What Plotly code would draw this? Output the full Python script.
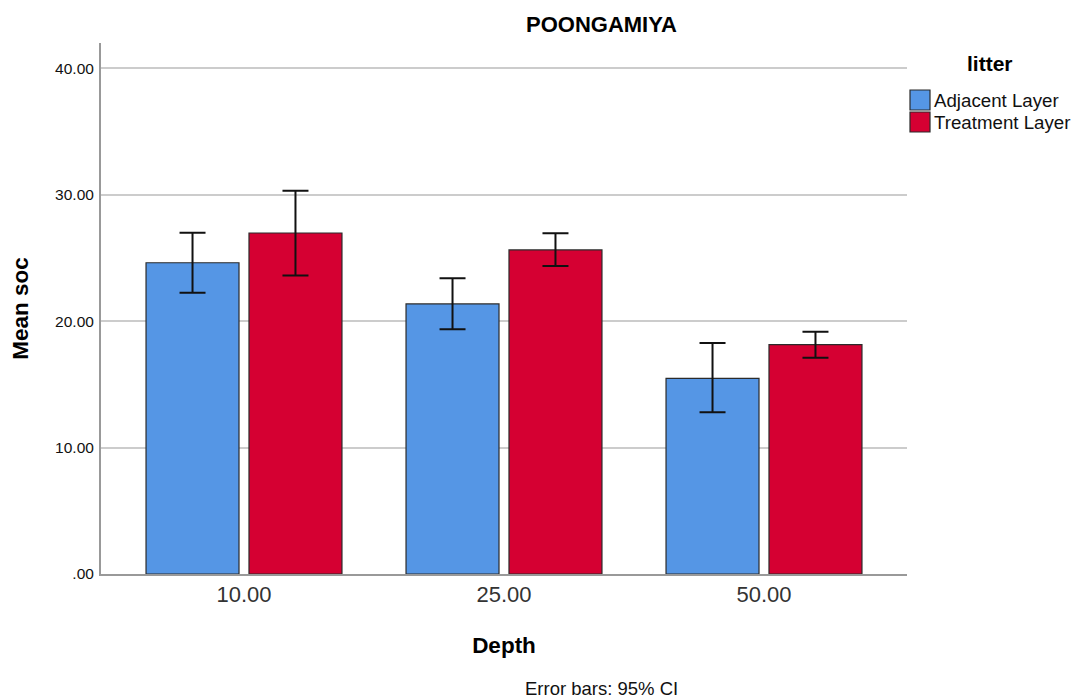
import plotly.graph_objects as go

# Mean SOC by depth and litter layer, with 95% confidence intervals
depths = ["10.00", "25.00", "50.00"]
adjacent_mean = [24.62, 21.36, 15.48]
adjacent_ci_low = [22.25, 19.35, 12.79]
adjacent_ci_high = [26.99, 23.39, 18.27]
treatment_mean = [26.97, 25.63, 18.14]
treatment_ci_low = [23.62, 24.36, 17.11]
treatment_ci_high = [30.32, 26.95, 19.17]

y_tickvals = [0, 10, 20, 30, 40]
y_ticktext = [".00", "10.00", "20.00", "30.00", "40.00"]

FONT = "Arial, Liberation Sans, sans-serif"
BLUE = "#5596E5"
RED = "#D50032"
EDGE = "#2b2b2b"

# plot area in pixels (for placing the side legend in paper units)
L, R, T, B = 101, 907, 43, 574


def px_x(px):
    return (px - L) / (R - L)


def px_y(py):
    return (B - py) / (B - T)


def err(mean, low, high):
    return dict(
        type="data",
        symmetric=False,
        array=[h - m for m, h in zip(mean, high)],
        arrayminus=[m - l for m, l in zip(mean, low)],
        color="#111111",
        thickness=2,
        width=13,
    )


fig = go.Figure()
series = [
    ("Adjacent Layer", adjacent_mean, adjacent_ci_low, adjacent_ci_high, BLUE),
    ("Treatment Layer", treatment_mean, treatment_ci_low, treatment_ci_high, RED),
]
for name, mean, lo, hi, color in series:
    fig.add_trace(go.Bar(
        name=name, x=depths, y=mean,
        marker=dict(color=color, line=dict(color=EDGE, width=1.2)),
        error_y=err(mean, lo, hi),
        showlegend=False,
    ))

# side legend: title, square swatches and labels
shapes = []
annotations = [
    dict(text="<b>litter</b>", xref="paper", yref="paper",
         x=px_x(990), y=px_y(64), xanchor="center", yanchor="middle",
         showarrow=False, font=dict(size=21, family=FONT, color="#000")),
]
for i, (name, _, _, _, color) in enumerate(series):
    top = 90 + 22 * i
    shapes.append(dict(type="rect", xref="paper", yref="paper",
                       x0=px_x(910), x1=px_x(930), y0=px_y(top + 20), y1=px_y(top),
                       fillcolor=color, line=dict(color=EDGE, width=1.2)))
    annotations.append(dict(text=name, xref="paper", yref="paper",
                            x=px_x(932), y=px_y(top + 10), xanchor="left", yanchor="middle",
                            showarrow=False, font=dict(size=18.7, family=FONT, color="#111")))

annotations += [
    dict(text="<b>POONGAMIYA</b>", xref="paper", yref="paper",
         x=px_x(601), y=px_y(24), xanchor="center", yanchor="middle",
         showarrow=False, font=dict(size=22, family=FONT, color="#000")),
    dict(text="Error bars: 95% CI", xref="paper", yref="paper",
         x=px_x(601), y=px_y(688), xanchor="center", yanchor="middle",
         showarrow=False, font=dict(size=18.5, family=FONT, color="#111")),
]

fig.update_layout(
    width=1073, height=698,
    margin=dict(l=L, r=1073 - R, t=T, b=698 - B, autoexpand=False),
    paper_bgcolor="white", plot_bgcolor="white",
    barmode="group", bargap=0.208, bargroupgap=0.097,
    font=dict(family=FONT, color="#000000"),
    showlegend=False,
    xaxis=dict(
        type="category", range=[-0.55, 2.55],
        showline=True, linecolor="#999999", linewidth=2,
        showgrid=False, ticks="",
        tickfont=dict(size=22, family=FONT, color="#333333"),
        title=dict(text="<b>Depth</b>", font=dict(size=22.5, family=FONT, color="#000"), standoff=31),
    ),
    yaxis=dict(
        range=[0, 42],
        tickvals=y_tickvals, ticktext=y_ticktext,
        showline=True, linecolor="#999999", linewidth=2,
        showgrid=True, gridcolor="#cccccc", gridwidth=1.5,
        zeroline=False, ticks="", ticklabelstandoff=2,
        tickfont=dict(size=15.5, family=FONT, color="#111111"),
        title=dict(text="<b>Mean soc</b>", font=dict(size=22.5, family=FONT, color="#000"), standoff=20),
    ),
    shapes=shapes,
    annotations=annotations,
)

fig.write_html("out.html")
